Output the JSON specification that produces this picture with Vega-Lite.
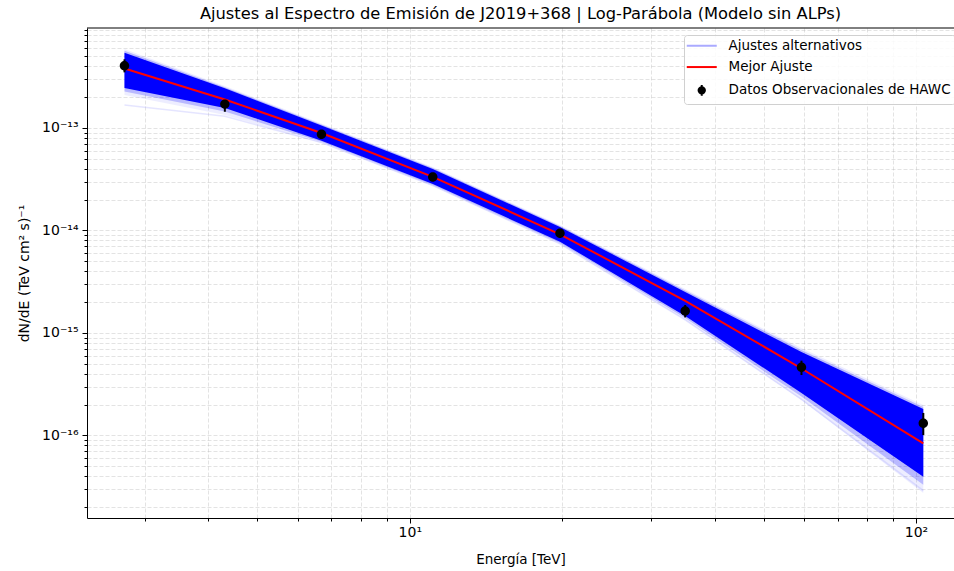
{
  "$schema": "https://vega.github.io/schema/vega-lite/v6.json",
  "autosize": {"type": "none"},
  "padding": {"left": 87, "top": 28, "right": 0, "bottom": 53},
  "width": 867,
  "height": 490,
  "background": "white",
  "config": {
    "font": "DejaVu Sans",
    "view": {"stroke": null},
    "axis": {
      "labelFont": "DejaVu Sans",
      "labelFontSize": 14,
      "labelColor": "#000000",
      "titleFont": "DejaVu Sans",
      "titleFontSize": 13.5,
      "titleFontWeight": "normal",
      "titleColor": "#000000",
      "domainColor": "#000000",
      "domainWidth": 1,
      "tickColor": "#000000",
      "tickWidth": 1,
      "grid": true,
      "gridColor": "#b0b0b0",
      "gridOpacity": 0.45,
      "gridDash": [4, 2],
      "gridWidth": 0.8,
      "labelOverlap": false,
      "labelFlush": false
    },
    "legend": {
      "labelFont": "DejaVu Sans",
      "labelFontSize": 13.5,
      "labelColor": "#000000",
      "labelLimit": 0
    }
  },
  "title": {
    "text": "Ajustes al Espectro de Emisión de J2019+368 | Log-Parábola (Modelo sin ALPs)",
    "font": "DejaVu Sans",
    "fontSize": 16.3,
    "fontWeight": "normal",
    "color": "#000000",
    "anchor": "middle",
    "offset": 1
  },
  "datasets": {
    "banda": [
      {"E": 2.73, "core_hi": 5.43e-13, "core_lo": 2.456e-13, "mid_hi": 5.66e-13, "mid_lo": 2.27e-13, "out_hi": 5.9e-13, "out_lo": 2.099e-13},
      {"E": 4.31, "core_hi": 2.439e-13, "core_lo": 1.567e-13, "mid_hi": 2.503e-13, "mid_lo": 1.449e-13, "out_hi": 2.57e-13, "out_lo": 1.339e-13},
      {"E": 6.69, "core_hi": 1.058e-13, "core_lo": 7.52e-14, "mid_hi": 1.082e-13, "mid_lo": 7.33e-14, "out_hi": 1.106e-13, "out_lo": 7.14e-14},
      {"E": 11.1, "core_hi": 3.98e-14, "core_lo": 2.842e-14, "mid_hi": 4.07e-14, "mid_lo": 2.779e-14, "out_hi": 4.164e-14, "out_lo": 2.717e-14},
      {"E": 19.8, "core_hi": 1.082e-14, "core_lo": 7.77e-15, "mid_hi": 1.106e-14, "mid_lo": 7.57e-15, "out_hi": 1.132e-14, "out_lo": 7.38e-15},
      {"E": 35.0, "core_hi": 2.512e-15, "core_lo": 1.465e-15, "mid_hi": 2.598e-15, "mid_lo": 1.4e-15, "out_hi": 2.687e-15, "out_lo": 1.339e-15},
      {"E": 59.4, "core_hi": 6.52e-16, "core_lo": 2.597e-16, "mid_hi": 6.82e-16, "mid_lo": 2.4e-16, "out_hi": 7.14e-16, "out_lo": 2.22e-16},
      {"E": 103.4, "core_hi": 1.813e-16, "core_lo": 3.96e-17, "mid_hi": 1.897e-16, "mid_lo": 3.3e-17, "out_hi": 1.984e-16, "out_lo": 2.75e-17}
    ],
    "suelta": [
      {"E": 2.73, "F": 1.676e-13},
      {"E": 4.31, "F": 1.3e-13},
      {"E": 6.69, "F": 7.2e-14},
      {"E": 11.1, "F": 2.75e-14},
      {"E": 19.8, "F": 7.4e-15},
      {"E": 35.0, "F": 1.34e-15},
      {"E": 59.4, "F": 2.25e-16},
      {"E": 103.4, "F": 2.9e-17}
    ],
    "mejor": [
      {"E": 2.73, "F": 3.806e-13},
      {"E": 4.31, "F": 1.897e-13},
      {"E": 6.69, "F": 8.94e-14},
      {"E": 11.1, "F": 3.341e-14},
      {"E": 19.8, "F": 9.18e-15},
      {"E": 35.0, "F": 2.061e-15},
      {"E": 59.4, "F": 4.505e-16},
      {"E": 103.4, "F": 8.36e-17}
    ],
    "hawc": [
      {"E": 2.73, "F": 4.05e-13, "lo": 3.49e-13, "hi": 4.68e-13},
      {"E": 4.31, "F": 1.71e-13, "lo": 1.44e-13, "hi": 1.875e-13},
      {"E": 6.69, "F": 8.68e-14, "lo": 8.1e-14, "hi": 9.3e-14},
      {"E": 11.1, "F": 3.33e-14, "lo": 3.15e-14, "hi": 3.5e-14},
      {"E": 19.8, "F": 9.4e-15, "lo": 8.9e-15, "hi": 9.9e-15},
      {"E": 35.0, "F": 1.64e-15, "lo": 1.42e-15, "hi": 1.875e-15},
      {"E": 59.4, "F": 4.63e-16, "lo": 3.89e-16, "hi": 5.37e-16},
      {"E": 103.4, "F": 1.315e-16, "lo": 1.01e-16, "hi": 1.66e-16}
    ]
  },
  "encoding": {
    "x": {
      "type": "quantitative",
      "scale": {"type": "log", "domain": [2.302, 118.9], "nice": false, "zero": false},
      "axis": {
        "title": "Energía [TeV]",
        "titlePadding": 13,
        "values": [3, 4, 5, 6, 7, 8, 9, 10, 20, 30, 40, 50, 60, 70, 80, 90, 100],
        "labelExpr": "datum.value == 10 ? '10¹' : datum.value == 100 ? '10²' : ''",
        "tickSize": {"condition": {"test": "datum.value == 10 || datum.value == 100", "value": 5}, "value": 3},
        "labelPadding": 2
      }
    },
    "y": {
      "type": "quantitative",
      "scale": {"type": "log", "domain": [1.567e-17, 9.454e-13], "nice": false, "zero": false},
      "axis": {
        "title": "dN/dE (TeV cm² s)⁻¹",
        "titleFontSize": 14,
        "titlePadding": 10,
        "values": [2e-17, 3e-17, 4e-17, 5e-17, 6e-17, 7e-17, 8e-17, 9e-17,
                   1e-16, 2e-16, 3e-16, 4e-16, 5e-16, 6e-16, 7e-16, 8e-16, 9e-16,
                   1e-15, 2e-15, 3e-15, 4e-15, 5e-15, 6e-15, 7e-15, 8e-15, 9e-15,
                   1e-14, 2e-14, 3e-14, 4e-14, 5e-14, 6e-14, 7e-14, 8e-14, 9e-14,
                   1e-13, 2e-13, 3e-13, 4e-13, 5e-13, 6e-13, 7e-13, 8e-13, 9e-13],
        "labelExpr": "datum.value == 1e-13 ? '10⁻¹³' : datum.value == 1e-14 ? '10⁻¹⁴' : datum.value == 1e-15 ? '10⁻¹⁵' : datum.value == 1e-16 ? '10⁻¹⁶' : ''",
        "tickSize": {"condition": {"test": "datum.value == 1e-13 || datum.value == 1e-14 || datum.value == 1e-15 || datum.value == 1e-16", "value": 5}, "value": 3},
        "labelPadding": 4
      }
    }
  },
  "layer": [
    {
      "data": {"name": "banda"},
      "mark": {"type": "area", "color": "#0000ff", "opacity": 0.07},
      "encoding": {
        "x": {"field": "E", "type": "quantitative"},
        "y": {"field": "out_lo", "type": "quantitative"},
        "y2": {"field": "out_hi"}
      }
    },
    {
      "data": {"name": "banda"},
      "mark": {"type": "area", "color": "#0000ff", "opacity": 0.22},
      "encoding": {
        "x": {"field": "E", "type": "quantitative"},
        "y": {"field": "mid_lo", "type": "quantitative"},
        "y2": {"field": "mid_hi"}
      }
    },
    {
      "data": {"name": "banda"},
      "mark": {"type": "area", "color": "#0000ff", "opacity": 1},
      "encoding": {
        "x": {"field": "E", "type": "quantitative"},
        "y": {"field": "core_lo", "type": "quantitative"},
        "y2": {"field": "core_hi"}
      }
    },
    {
      "data": {"name": "suelta"},
      "mark": {"type": "line", "strokeWidth": 1.5, "opacity": 0.3},
      "encoding": {
        "x": {"field": "E", "type": "quantitative"},
        "y": {"field": "F", "type": "quantitative"},
        "color": {
          "datum": "Ajustes alternativos",
          "type": "nominal",
          "scale": {
            "domain": ["Ajustes alternativos", "Mejor Ajuste", "Datos Observacionales de HAWC"],
            "range": ["#aaaaff", "#ff0000", "#000000"]
          },
          "legend": {
            "title": null,
            "orient": "none",
            "legendX": 597,
            "legendY": 7,
            "padding": 4,
            "strokeColor": "#d0d0d0",
            "fillColor": "rgba(255,255,255,0.85)",
            "cornerRadius": 3,
            "symbolSize": 36,
            "symbolOffset": 7,
            "symbolStrokeWidth": 2,
            "symbolOpacity": 1,
            "labelOffset": 20,
            "rowPadding": 6.3,
            "labelLimit": 0
          }
        }
      }
    },
    {
      "data": {"name": "mejor"},
      "mark": {"type": "line", "strokeWidth": 2},
      "encoding": {
        "x": {"field": "E", "type": "quantitative"},
        "y": {"field": "F", "type": "quantitative"},
        "color": {"datum": "Mejor Ajuste", "type": "nominal"}
      }
    },
    {
      "data": {"name": "hawc"},
      "mark": {"type": "rule", "color": "#000000", "strokeWidth": 2},
      "encoding": {
        "x": {"field": "E", "type": "quantitative"},
        "y": {"field": "lo", "type": "quantitative"},
        "y2": {"field": "hi"}
      }
    },
    {
      "data": {"name": "hawc"},
      "mark": {"type": "point", "filled": true, "size": 80, "opacity": 1},
      "encoding": {
        "x": {"field": "E", "type": "quantitative"},
        "y": {"field": "F", "type": "quantitative"},
        "color": {"datum": "Datos Observacionales de HAWC", "type": "nominal"},
        "shape": {
          "datum": "Datos Observacionales de HAWC",
          "type": "nominal",
          "scale": {
            "domain": ["Ajustes alternativos", "Mejor Ajuste", "Datos Observacionales de HAWC"],
            "range": [
              "M-5,0L5,0",
              "M-5,0L5,0",
              "M0,-1.8L0,1.8M-1.06,0A1.06,1.06 0 1,0 1.06,0A1.06,1.06 0 1,0 -1.06,0Z"
            ]
          }
        }
      }
    },
    {
      "data": {"values": [{}]},
      "mark": {"type": "rule", "color": "#000000", "strokeWidth": 1},
      "encoding": {
        "y": {"datum": 9.454e-13, "type": "quantitative"}
      }
    }
  ]
}
